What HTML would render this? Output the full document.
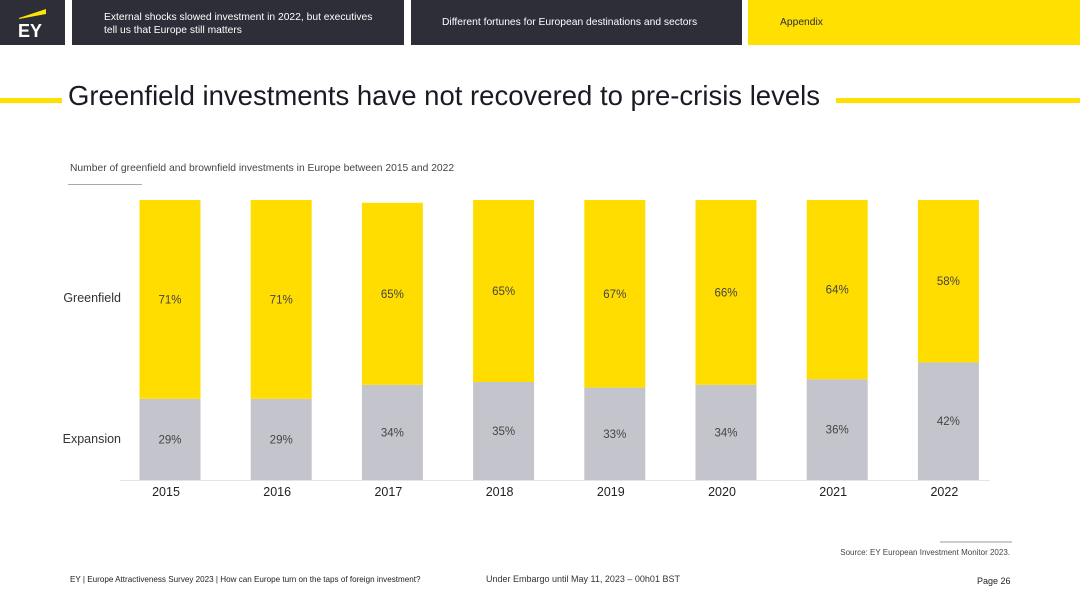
<!DOCTYPE html>
<html><head><meta charset="utf-8">
<style>
body{margin:0;width:1080px;height:607px;position:relative;overflow:hidden;background:#fff;font-family:"Liberation Sans",sans-serif;}
.abs{position:absolute;}
.hdr{background:#2e2e38;color:#fff;font-size:10.3px;}
</style></head><body>
<div class="abs hdr" style="left:0;top:0;width:65px;height:45px;">
  <svg width="65" height="45"><polygon points="19,18 46,9 46,14 19,19" fill="#ffe600"/><text x="18" y="37" font-size="18" font-weight="bold" fill="#fff" font-family="Liberation Sans">EY</text></svg>
</div>
<div class="abs hdr" style="left:72px;top:0;width:332px;height:45px;"><div style="position:absolute;left:32px;top:11px;line-height:13px;">External shocks slowed investment in 2022, but executives<br>tell us that Europe still matters</div></div>
<div class="abs hdr" style="left:411px;top:0;width:331px;height:45px;"><div style="position:absolute;left:31px;top:17px;">Different fortunes for European destinations and sectors</div></div>
<div class="abs" style="left:748px;top:0;width:332px;height:45px;background:#ffe000;font-size:10.3px;color:#2e2e38;"><div style="position:absolute;left:32px;top:17px;">Appendix</div></div>
<div class="abs" style="left:0;top:98px;width:62px;height:5px;background:#ffe000;"></div>
<div class="abs" style="left:68px;top:80px;font-size:27.5px;color:#1a1a24;white-space:nowrap;">Greenfield investments have not recovered to pre-crisis levels</div>
<div class="abs" style="left:836px;top:98px;width:244px;height:5px;background:#ffe000;"></div>
<div class="abs" style="left:70px;top:163px;font-size:10.3px;color:#444;">Number of greenfield and brownfield investments in Europe between 2015 and 2022</div>
<div class="abs" style="left:68px;top:184px;width:74px;height:1px;background:#aaa;"></div>
<svg class="abs" style="left:0;top:0" width="1080" height="607" id="chart"></svg>
<div class="abs" style="left:940px;top:541px;width:72px;height:2px;background:#ccc;"></div>
<div class="abs" style="right:70px;top:548px;font-size:8px;color:#444;">Source: EY European Investment Monitor 2023.</div>
<div class="abs" style="left:70px;top:575px;font-size:8.1px;color:#222;">EY | Europe Attractiveness Survey 2023 | How can Europe turn on the taps of foreign investment?</div>
<div class="abs" style="left:486px;top:574px;font-size:9px;color:#333;">Under Embargo until May 11, 2023 – 00h01 BST</div>
<div class="abs" style="left:977px;top:576px;font-size:9px;color:#222;">Page 26</div>
<script>
const years=["2015","2016","2017","2018","2019","2020","2021","2022"];
const greenfield=[71,71,65,65,67,66,64,58];
const expansion=[29,29,34,35,33,34,36,42];
const svg=document.getElementById('chart');
const NS='http://www.w3.org/2000/svg';
const y=v=>480-v*2.8;
const x=i=>170+i*111.2;
const bw=61;
function mk(t,a){const e=document.createElementNS(NS,t);for(const k in a)e.setAttribute(k,a[k]);svg.appendChild(e);return e;}
const base=mk('line',{x1:120,x2:990,y1:480.5,y2:480.5,stroke:'#e4e4e4','stroke-width':1});


years.forEach((yr,i)=>{
  const e=expansion[i],g=greenfield[i];
  const r1=mk('rect',{x:x(i)-bw/2,y:y(e),width:bw,height:y(0)-y(e),fill:'#c4c5cc'});
  
  
  const r2=mk('rect',{x:x(i)-bw/2,y:y(e+g),width:bw,height:y(e)-y(e+g),fill:'#ffdd00'});
  
  
  const t1=mk('text',{x:x(i),y:(y(0)+y(e))/2+4,'text-anchor':'middle','font-size':11.5,fill:'#444'});
  t1.textContent=e+'%';
  
  
  const t2=mk('text',{x:x(i),y:(y(e)+y(e+g))/2+4,'text-anchor':'middle','font-size':11.5,fill:'#444'});
  t2.textContent=g+'%';
  
  
  const t3=mk('text',{x:x(i)-4,y:496,'text-anchor':'middle','font-size':12.5,fill:'#222'});
  t3.textContent=yr;
  
  
});
const l1=mk('text',{x:121,y:302,'text-anchor':'end','font-size':12.5,fill:'#333'});
l1.textContent='Greenfield';


const l2=mk('text',{x:121,y:443,'text-anchor':'end','font-size':12.5,fill:'#333'});
l2.textContent='Expansion';


</script>
</body></html>
